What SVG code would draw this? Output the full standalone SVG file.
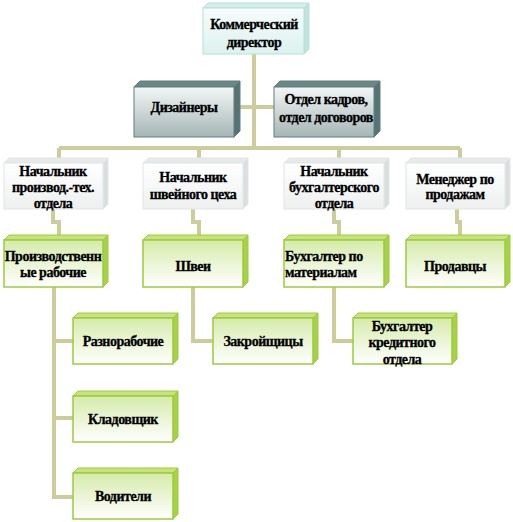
<svg xmlns="http://www.w3.org/2000/svg" width="513" height="522" viewBox="0 0 513 522" font-family="Liberation Serif, Times New Roman, serif">
<defs>
<linearGradient id="gTop" x1="0" y1="0" x2="0" y2="1"><stop offset="0" stop-color="#f7fdfc"/><stop offset="1" stop-color="#dcf2ee"/></linearGradient>
<linearGradient id="gDark" x1="0" y1="0" x2="0" y2="1"><stop offset="0" stop-color="#f4f6f6"/><stop offset="1" stop-color="#a6b6b6"/></linearGradient>
<linearGradient id="gWhite" x1="0" y1="0" x2="0" y2="1"><stop offset="0" stop-color="#ffffff"/><stop offset="1" stop-color="#eef0f0"/></linearGradient>
<linearGradient id="gGreen" x1="0" y1="0" x2="0" y2="1"><stop offset="0" stop-color="#d6ebaa"/><stop offset="1" stop-color="#ffffff"/></linearGradient>
</defs>
<style>
.c{fill:none;stroke:#cdcd9c;stroke-width:4;stroke-linejoin:miter}
.tx{font-weight:700;font-size:14px;letter-spacing:-0.5px;fill:#000;text-anchor:middle;stroke:#000;stroke-width:0.3px}
.tx.l{text-anchor:start}
.top .f{fill:url(#gTop);stroke:#b4e0da;stroke-width:1}
.top .t{fill:#d6eeeb;stroke:#b4e0da;stroke-width:1}
.top .s{fill:#c2e2de;stroke:#b4e0da;stroke-width:1}
.dark .f{fill:url(#gDark);stroke:#5f7f7f;stroke-width:1}
.dark .t{fill:#6a8888;stroke:#5f7f7f;stroke-width:1}
.dark .s{fill:#557373;stroke:#5f7f7f;stroke-width:1}
.white .f{fill:url(#gWhite);stroke:#e2e6e6;stroke-width:1}
.white .t{fill:#e6eaea;stroke:#e2e6e6;stroke-width:1}
.white .s{fill:#d9dede;stroke:#e2e6e6;stroke-width:1}
.green .f{fill:url(#gGreen);stroke:#9ccc3c;stroke-width:1.5}
.green .t{fill:#c6e37e;stroke:#9ccc3c;stroke-width:1}
.green .s{fill:#a8d048;stroke:#9ccc3c;stroke-width:1}
</style>
<g id="connectors">
<path class="c" d="M254 54V148"/>
<path class="c" d="M234 107H274"/>
<path class="c" d="M59 148H460"/>
<path class="c" d="M59 148V163M199 148V163M339 148V163M460 148V163"/>
<path class="c" d="M53 209V222H59V240"/>
<path class="c" d="M193 209V222H199V240"/>
<path class="c" d="M334 209V222H339V240"/>
<path class="c" d="M457 209V222H460V240"/>
<path class="c" d="M54 287V497H73M54 341H73M54 418H73"/>
<path class="c" d="M193 287V341H213"/>
<path class="c" d="M334 287V341H353"/>
</g>
<g id="director" class="top">
<polygon class="t" points="203,8 208,3 309,3 304,8"/><polygon class="s" points="304,8 309,3 309,49 304,54"/><rect class="f" x="203" y="8" width="101" height="46"/>
<text class="tx" x="254" y="29">Коммерческий</text><text class="tx" x="254" y="47">директор</text>
</g>
<g id="designers" class="dark">
<polygon class="t" points="134,87 140,81 240,81 234,87"/><polygon class="s" points="234,87 240,81 240,131 234,137"/><rect class="f" x="134" y="87" width="100" height="50"/>
<text class="tx" x="184" y="112">Дизайнеры</text>
</g>
<g id="hr" class="dark">
<polygon class="t" points="274,87 280,81 380,81 374,87"/><polygon class="s" points="374,87 380,81 380,131 374,137"/><rect class="f" x="274" y="87" width="100" height="50"/>
<text class="tx" x="326" y="104">Отдел кадров,</text><text class="tx" x="326" y="122">отдел договоров</text>
</g>
<g id="head-prod" class="white">
<polygon class="t" points="4,163 9,158 108,158 103,163"/><polygon class="s" points="103,163 108,158 108,204 103,209"/><rect class="f" x="4" y="163" width="99" height="46"/>
<text class="tx" x="53" y="176">Начальник</text><text class="tx" x="53" y="192">производ.-тех.</text><text class="tx" x="53" y="208">отдела</text>
</g>
<g id="head-sew" class="white">
<polygon class="t" points="143,163 148,158 248,158 243,163"/><polygon class="s" points="243,163 248,158 248,204 243,209"/><rect class="f" x="143" y="163" width="100" height="46"/>
<text class="tx" x="193" y="182">Начальник</text><text class="tx" x="193" y="199">швейного цеха</text>
</g>
<g id="head-acc" class="white">
<polygon class="t" points="284,163 289,158 389,158 384,163"/><polygon class="s" points="384,163 389,158 389,204 384,209"/><rect class="f" x="284" y="163" width="100" height="46"/>
<text class="tx" x="334" y="176">Начальник</text><text class="tx" x="334" y="192">бухгалтерского</text><text class="tx" x="334" y="208">отдела</text>
</g>
<g id="sales-mgr" class="white">
<polygon class="t" points="406,163 411,158 510,158 505,163"/><polygon class="s" points="505,163 510,158 510,204 505,209"/><rect class="f" x="406" y="163" width="99" height="46"/>
<text class="tx" x="455" y="184">Менеджер по</text><text class="tx" x="455" y="199">продажам</text>
</g>
<g id="workers" class="green">
<polygon class="t" points="4,240 9,235 108,235 103,240"/><polygon class="s" points="103,240 108,235 108,282 103,287"/><rect class="f" x="4" y="240" width="99" height="47"/>
<text class="tx" x="53" y="261">Производственн</text><text class="tx" x="53" y="277">ые рабочие</text>
</g>
<g id="seamstresses" class="green">
<polygon class="t" points="143,240 148,235 248,235 243,240"/><polygon class="s" points="243,240 248,235 248,282 243,287"/><rect class="f" x="143" y="240" width="100" height="47"/>
<text class="tx" x="193" y="271">Швеи</text>
</g>
<g id="acc-materials" class="green">
<polygon class="t" points="284,240 289,235 389,235 384,240"/><polygon class="s" points="384,240 389,235 389,282 384,287"/><rect class="f" x="284" y="240" width="100" height="47"/>
<text class="tx l" x="285" y="261">Бухгалтер по</text><text class="tx l" x="285" y="277">материалам</text>
</g>
<g id="sellers" class="green">
<polygon class="t" points="406,240 411,235 510,235 505,240"/><polygon class="s" points="505,240 510,235 510,282 505,287"/><rect class="f" x="406" y="240" width="99" height="47"/>
<text class="tx" x="455" y="271">Продавцы</text>
</g>
<g id="laborers" class="green">
<polygon class="t" points="73,318 78,313 178,313 173,318"/><polygon class="s" points="173,318 178,313 178,359 173,364"/><rect class="f" x="73" y="318" width="100" height="46"/>
<text class="tx" x="123" y="346">Разнорабочие</text>
</g>
<g id="storekeeper" class="green">
<polygon class="t" points="73,396 78,391 178,391 173,396"/><polygon class="s" points="173,396 178,391 178,437 173,442"/><rect class="f" x="73" y="396" width="100" height="46"/>
<text class="tx" x="123" y="424">Кладовщик</text>
</g>
<g id="drivers" class="green">
<polygon class="t" points="73,473 78,468 178,468 173,473"/><polygon class="s" points="173,473 178,468 178,514 173,519"/><rect class="f" x="73" y="473" width="100" height="46"/>
<text class="tx" x="123" y="501">Водители</text>
</g>
<g id="cutters" class="green">
<polygon class="t" points="213,318 218,313 318,313 313,318"/><polygon class="s" points="313,318 318,313 318,359 313,364"/><rect class="f" x="213" y="318" width="100" height="46"/>
<text class="tx" x="263" y="346">Закройщицы</text>
</g>
<g id="acc-credit" class="green">
<polygon class="t" points="353,318 358,313 457,313 452,318"/><polygon class="s" points="452,318 457,313 457,359 452,364"/><rect class="f" x="353" y="318" width="99" height="46"/>
<text class="tx" x="402" y="331">Бухгалтер</text><text class="tx" x="402" y="347">кредитного</text><text class="tx" x="402" y="364">отдела</text>
</g>
</svg>
